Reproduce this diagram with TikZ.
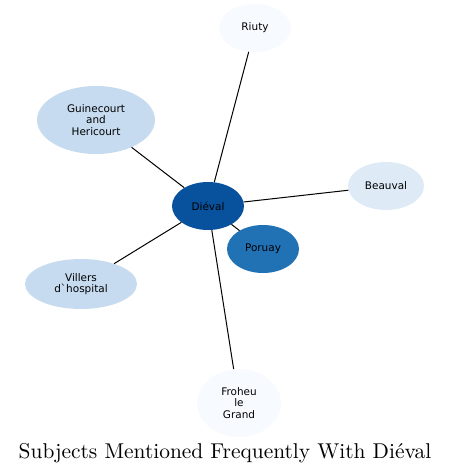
\documentclass[tikz,border=0pt]{standalone}
\usepackage{fontspec}
\newfontfamily\labelfont{DejaVu Sans}
\newfontfamily\titlefont{lmroman10-regular.otf}
\usetikzlibrary{shapes.geometric}

\definecolor{blueA}{HTML}{08519C}
\definecolor{blueB}{HTML}{2171B5}
\definecolor{blueC}{HTML}{C6DBEF}
\definecolor{blueD}{HTML}{DEEBF7}
\definecolor{blueE}{HTML}{F7FBFF}

\begin{document}
\begin{tikzpicture}[
    x=1bp, y=-1bp,
    place/.style={ellipse, inner sep=0pt, align=center,
        font=\labelfont\fontsize{10.5}{11.7}\selectfont},
    link/.style={draw=black, line width=1bp},
    title/.style={font=\titlefont\fontsize{21.5}{24}\selectfont}
]
\useasboundingbox (0,0) rectangle (451,473);

% Centre
\node[place, fill=blueA, minimum width=72bp, minimum height=48bp] (dieval) at (208,206) {Diéval};

% Neighbours
\node[place, fill=blueE, minimum width=72bp, minimum height=48bp] (riuty) at (255,28) {Riuty};
\node[place, fill=blueC, minimum width=118bp, minimum height=68bp] (guinecourt) at (96,120) {Guinecourt\\and\\Hericourt};
\node[place, fill=blueD, minimum width=76bp, minimum height=48bp] (beauval) at (386,186) {Beauval};
\node[place, fill=blueB, minimum width=72bp, minimum height=48bp] (poruay) at (263,249) {Poruay};
\node[place, fill=blueC, minimum width=112bp, minimum height=50bp] (villers) at (81,284) {Villers\\d`hospital};
\node[place, fill=blueE, minimum width=84bp, minimum height=68bp] (froheu) at (239,403) {Froheu\\le\\Grand};

% Links
\draw[link] (dieval) -- (riuty);
\draw[link] (dieval) -- (guinecourt);
\draw[link] (dieval) -- (beauval);
\draw[link] (dieval) -- (poruay);
\draw[link] (dieval) -- (villers);
\draw[link] (dieval) -- (froheu);

% Title
\node[title, anchor=base] (caption) at (225,458) {Subjects Mentioned Frequently With Diéval};

\end{tikzpicture}
\end{document}
